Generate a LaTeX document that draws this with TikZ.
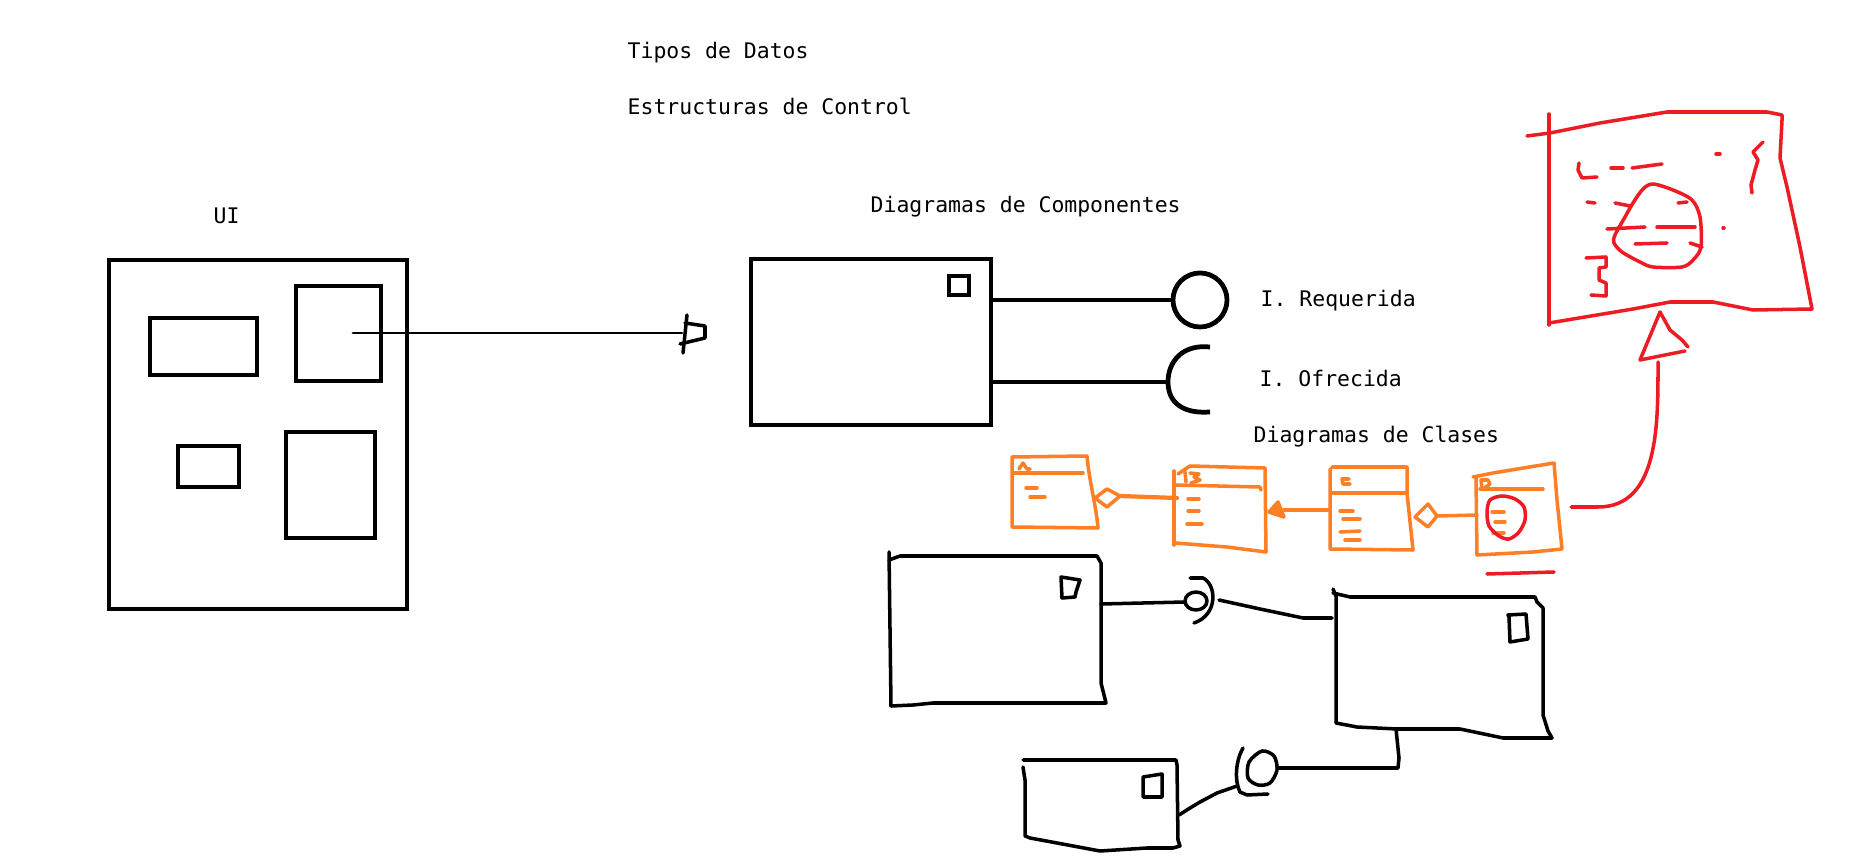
\documentclass[tikz,border=0pt]{standalone}
\usepackage{fontspec}
\setmainfont{DejaVu Sans Mono}
\usepackage{xcolor}
\usepackage{tikz}

\definecolor{paintorange}{RGB}{255,127,39}
\definecolor{paintred}{RGB}{237,28,36}

\tikzset{
  heavy/.style={line width=1.35pt},
  sketch/.style={line width=1pt, line cap=round, line join=round},
  lbl/.style={font=\fontsize{6.1pt}{7pt}\selectfont, inner sep=0pt, anchor=base west},
}

\begin{document}
\begin{tikzpicture}[x=0.01cm, y=-0.01cm]
        \useasboundingbox (0,0) rectangle (1875,858);

        % textos
        \node[lbl] (tipos) at (627,59) {Tipos de Datos};
        \node[lbl] (estructuras) at (627,115) {Estructuras de Control};
        \node[lbl] (ui) at (213,224) {UI};
        \node[lbl] (componentes) at (870,213) {Diagramas de Componentes};
        \node[lbl] (requerida) at (1260,307) {I. Requerida};
        \node[lbl] (ofrecida) at (1259,387) {I. Ofrecida};
        \node[lbl] (clases) at (1253,443) {Diagramas de Clases};

        % UI
        \draw[heavy] (109,260) rectangle (407,609);
        \draw[heavy] (150,318) rectangle (257,375);
        \draw[heavy] (296,286) rectangle (381,381);
        \draw[heavy] (178,446) rectangle (239,487);
        \draw[heavy] (286,432) rectangle (375,538);
        \coordinate (uiPort) at (353,333);
        \coordinate (plug) at (682,333);
        \draw[sketch, line width=0.8pt] (uiPort) -- (plug);
        \draw[sketch] (687,315) -- (683,353);
        \draw[sketch] (685,323) -- (705,326) -- (705,338) -- (680,344);

        % componente
        \draw[heavy] (751,259) rectangle (991,425);
        \draw[line width=1.15pt] (949,276) rectangle (969,295);
        \node[draw, circle, heavy, minimum size=0.54cm, inner sep=0pt] (reqBall) at (1200,300) {};
        \coordinate (reqPort) at (991,300);
        \coordinate (ofrPort) at (991,382);
        \coordinate (ofrCup) at (1168,382);
        \draw[heavy] (reqPort) -- (reqBall.west);
        \draw[heavy] (ofrPort) -- (ofrCup);
        \draw[heavy] (1210,347) .. controls (1182,344) and (1168,362) .. (ofrCup)
                     .. controls (1168,402) and (1182,414) .. (1210,412);

        % clases
        \begin{scope}[sketch, paintorange]
        \draw (1012,457) -- (1087,456) .. controls (1089,480) and (1096,505) .. (1098,528) -- (1012,527) -- cycle;
        \draw (1014,473) -- (1083,473);
        \draw (1019,469) -- (1023,463) -- (1027,469) -- (1030,469);
        \draw (1026,488) -- (1037,488);
        \draw (1030,497) -- (1045,497);
        \draw (1095,498) -- (1107,489) -- (1120,496) -- (1107,507) -- cycle;
        \coordinate (aggA) at (1120,496);
        \coordinate (bIn) at (1177,498);
        \draw[line width=1.2pt] (aggA) -- (bIn);

        \draw (1174,545) -- (1174,471);
        \draw (1178,474) -- (1190,466) -- (1265,468) -- (1266,552) -- (1227,547) -- (1175,543);
        \draw (1176,485) -- (1260,487) -- (1261,490);
        \draw (1185,472) -- (1186,482);
        \draw (1190,473) -- (1199,474) -- (1194,477) -- (1200,480) -- (1191,483);
        \draw (1188,499) -- (1199,499);
        \draw (1188,511) -- (1199,511);
        \draw (1187,524) -- (1202,524);
        \filldraw (1269,512) -- (1278,502) -- (1284,517) -- cycle;
        \coordinate (bHead) at (1284,510);
        \coordinate (cIn) at (1330,510);
        \draw (bHead) -- (cIn);

        \draw (1330,469) -- (1330,549) -- (1413,550) -- (1407,493) -- (1407,467) -- (1332,467);
        \draw (1332,493) -- (1407,493);
        \draw (1349,479) -- (1342,479) -- (1343,484) -- (1350,484);
        \draw (1340,511) -- (1353,511);
        \draw (1343,519) -- (1360,519);
        \draw (1340,532) -- (1360,531);
        \draw (1345,540) -- (1360,540);
        \draw (1415,517) -- (1428,504) -- (1437,516) -- (1428,527) -- cycle;
        \coordinate (aggC) at (1437,516);
        \coordinate (dIn) at (1477,515);
        \draw (aggC) -- (dIn);

        \draw (1476,478) -- (1477,555) -- (1533,552) -- (1562,549) -- (1557,500) -- (1554,463) -- (1493,473) -- (1473,477);
        \draw (1480,489) -- (1543,489);
        \draw (1481,480) -- (1482,489);
        \draw (1481,480) -- (1488,480) -- (1490,484) -- (1483,489);
        \draw (1492,512) -- (1504,512);
        \draw (1495,522) -- (1505,522);
        \draw (1493,533) -- (1504,533);
        \end{scope}

        % rojo
        \begin{scope}[sketch, paintred]
        \draw plot[smooth cycle] coordinates {(1490,500) (1502,496) (1515,499) (1524,507) (1525,520) (1519,532) (1509,539) (1499,536) (1489,526) (1487,512)};
        \draw (1487,574) -- (1554,572);
        \coordinate (dOut) at (1571,507);
        \coordinate (genTip) at (1658,362);
        \draw (dOut) -- (1598,507) to[out=0, in=-90] (genTip);
        \draw (1685,351) -- (1640,360) -- (1660,312) -- (1670,330) -- (1682,340) -- (1688,347);

        \draw (1549,114) -- (1549,325);
        \draw (1527,136) -- (1550,133) -- (1600,123) -- (1667,112) -- (1767,112) -- (1782,115) -- (1782,120)
              -- (1780,158) -- (1787,187) -- (1800,247) -- (1812,309)
              -- (1753,310) -- (1713,302) -- (1670,302) -- (1633,309) -- (1567,320) -- (1549,323);
        \draw (1597,177) -- (1582,178) -- (1578,170) -- (1579,163);
        \draw (1611,168) -- (1623,168);
        \draw (1632,168) -- (1662,164);
        \draw (1716,154) -- (1720,154);
        \draw (1763,142) -- (1753,152) -- (1758,160) -- (1755,170) -- (1751,185) -- (1752,193);
        \draw (1587,202) -- (1595,203);
        \draw (1615,203) -- (1630,206);
        \draw (1678,203) -- (1687,202);
        \draw (1607,229) -- (1645,227);
        \draw (1657,227) -- (1695,227);
        \draw (1635,244) -- (1667,243);
        \draw (1690,243) -- (1702,247);
        \draw (1723,228) -- (1724,228);
        \draw (1586,258) -- (1606,257) -- (1606,267) -- (1599,268) -- (1599,280) -- (1606,283) -- (1606,296) -- (1591,295);
        \draw plot[smooth cycle] coordinates {(1653,184) (1673,190) (1692,200) (1700,217) (1701,247) (1693,260) (1682,267) (1653,267) (1640,262) (1622,252) (1614,243) (1615,235) (1625,217) (1633,203) (1643,189)};
        \end{scope}

        % componentes abajo
        \begin{scope}[sketch]
        \draw (889,552) -- (891,706);
        \draw (889,560) -- (900,556) -- (1097,556) -- (1101,563) -- (1101,683) -- (1106,703) -- (933,703) -- (913,705) -- (891,706);
        \draw (1061,577) -- (1080,580) -- (1076,592) -- (1075,597) -- (1062,598) -- cycle;
        \coordinate (lPort) at (1101,604);
        \coordinate (lBall) at (1185,602);
        \draw (lPort) -- (lBall);
        \draw (1196,601) ellipse[x radius=11, y radius=9];
        \draw (1190,578) -- (1203,578) .. controls (1217,585) and (1218,615) .. (1194,623);
        \coordinate (lCup) at (1219,600);
        \coordinate (rPort) at (1332,618);
        \draw (lCup) -- (1260,609) -- (1303,618) -- (rPort);

        \draw (1333,589) -- (1336,596) -- (1336,723);
        \draw (1333,593) -- (1350,597) -- (1535,597) -- (1537,602) -- (1543,608) -- (1543,715) -- (1548,731) -- (1552,738)
              -- (1503,738) -- (1460,729) -- (1397,729) -- (1357,727) -- (1336,723);
        \draw (1509,617) -- (1508,615) -- (1526,614) -- (1528,639) -- (1510,642) -- cycle;
        \coordinate (rDown) at (1396,729);
        \coordinate (bBall) at (1277,768);
        \draw (rDown) -- (1399,758) -- (1398,768) -- (bBall);
        \draw plot[smooth cycle] coordinates {(1262,751) (1274,756) (1277,770) (1270,783) (1258,785) (1248,778) (1249,762)};
        \draw (1243,748) .. controls (1236,760) and (1234,780) .. (1240,792) -- (1247,795) -- (1268,794);
        \coordinate (bCup) at (1237,786);
        \coordinate (bPort) at (1179,815);
        \draw (bCup) -- (1217,793) -- (1200,802) -- (1190,808) -- (bPort);

        \draw (1023,760) -- (1176,760) -- (1177,765) -- (1178,840) -- (1180,846) -- (1173,848) -- (1147,848) -- (1100,851)
              -- (1057,843) -- (1030,838) -- (1025,836) -- (1025,780) -- (1023,767);
        \draw (1143,777) -- (1162,774) -- (1162,797) -- (1143,797) -- cycle;
        \end{scope}
\end{tikzpicture}
\end{document}
